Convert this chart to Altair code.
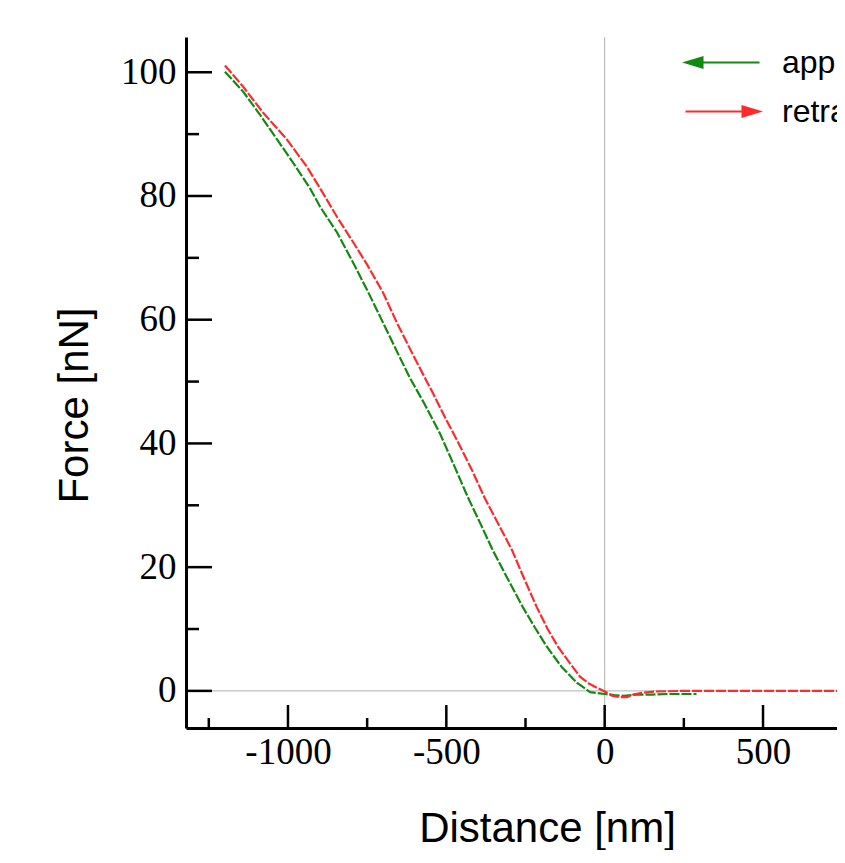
import altair as alt
import pandas as pd

# ---- data ----
approach_x = [-1199, -1142, -1088, -1034, -984, -931, -899, -845, -795, -750, -709, -662,
              -615, -568, -520, -476, -432, -392, -353, -305, -258, -220, -182, -135, -87,
              -46, 0, 30, 60, 100, 150, 200, 250, 290]
approach_y = [100.1, 96.9, 93.1, 89.1, 85.4, 81.3, 78.3, 74.1, 69.3, 64.8, 60.5, 55.5,
              50.6, 46.3, 41.6, 36.5, 31.3, 27.0, 22.7, 18.0, 13.5, 10.2, 7.1, 3.8, 1.3,
              -0.2, -0.5, -0.7, -0.8, -0.6, -0.6, -0.5, -0.5, -0.5]

retract_x = [-1199, -1142, -1079, -1003, -940, -890, -845, -795, -750, -700, -656, -600,
             -542, -505, -466, -420, -378, -335, -292, -253, -214, -180, -147, -110, -78,
             -50, -24, 0, 25, 50, 70, 90, 121, 160, 250, 400, 600, 800, 1000]
retract_y = [101.1, 97.7, 93.5, 89.1, 84.7, 80.5, 76.6, 72.6, 68.9, 64.4, 59.5, 53.8,
             48.1, 44.3, 40.5, 35.8, 31.1, 26.9, 22.7, 18.0, 13.5, 10.0, 7.1, 4.5, 2.3,
             1.2, 0.5, -0.1, -0.8, -1.0, -1.0, -0.6, -0.3, -0.1, 0.0, 0.0, 0.0, 0.0, 0.0]

series_names = ["approach", "retract"]
series_colors = ["#128a12", "#ff2a2a"]

y_major = [0, 20, 40, 60, 80, 100]
y_minor = [10, 30, 50, 70, 90]
x_major = [-1000, -500, 0, 500]
x_minor = [-1250, -750, -250, 250, 750]
x_domain = [-1322, 733.6]
y_domain = [-6, 105.7]

# arrows for the legend symbols
arrow_left = "M-2,0L2,0M-2,0L-1.08,-0.28L-1.08,0.28Z"
arrow_right = "M-2,0L2,0M2,0L1.08,-0.28L1.08,0.28Z"

# ---- tables ----
rows = []
for i, (xv, yv) in enumerate(zip(approach_x, approach_y)):
    rows.append({"x": xv, "y": yv, "series": "approach", "idx": i})
for i, (xv, yv) in enumerate(zip(retract_x, retract_y)):
    rows.append({"x": xv, "y": yv, "series": "retract", "idx": i})
df = pd.DataFrame(rows)

W, H = 651, 691

xs = alt.Scale(domain=x_domain, nice=False, zero=False)
ys = alt.Scale(domain=y_domain, nice=False, zero=False)
cscale = alt.Scale(domain=series_names, range=series_colors)

x_axis = alt.Axis(
    values=x_major, labelExpr="datum.value < 0 ? '-' + abs(datum.value) : '' + datum.value",
    ticks=False, tickSize=0, grid=False, domain=True, domainColor="black", domainWidth=3,
    labelFont="Liberation Serif", labelFontSize=37, labelColor="black", labelPadding=6,
    labelBaseline="top",
    title="Distance [nm]", titleFont="Liberation Sans", titleFontSize=42,
    titleFontWeight="normal", titleColor="black", titleX=361, titleY=113,
    titleAlign="center", titleBaseline="alphabetic",
)
y_axis = alt.Axis(
    values=y_major, ticks=False, tickSize=0, grid=False, domain=True, domainColor="black",
    domainWidth=3, labelFont="Liberation Serif", labelFontSize=37, labelColor="black",
    labelPadding=10, labelBaseline="middle",
    title="Force [nN]", titleFont="Liberation Sans", titleFontSize=42,
    titleFontWeight="normal", titleColor="black", titleX=-112, titleY=368,
    titleAngle=270, titleAlign="center", titleBaseline="middle",
)

leg = alt.Legend(
    orient="none", legendX=517, legendY=6, direction="vertical", title=None, padding=0,
    symbolSize=1369, symbolStrokeWidth=2, labelFont="Liberation Sans", labelFontSize=32,
    labelColor="black", labelOffset=40, rowPadding=13, labelLimit=600,
)
legend_layer = alt.Chart(df).transform_filter("false").mark_point(
    filled=True, opacity=1, size=1369, strokeWidth=2).encode(
    x=alt.X("x:Q", scale=xs),
    y=alt.Y("y:Q", scale=ys),
    color=alt.Color("series:N", scale=cscale, legend=leg),
    stroke=alt.Stroke("series:N", scale=cscale, legend=leg),
    shape=alt.Shape("series:N", scale=alt.Scale(domain=series_names, range=[arrow_left, arrow_right]),
                    legend=leg),
)

lines = alt.Chart(df).mark_line(strokeWidth=2.2, strokeDash=[10, 2], clip=True).encode(
    x=alt.X("x:Q", scale=xs, axis=x_axis),
    y=alt.Y("y:Q", scale=ys, axis=y_axis),
    color=alt.Color("series:N", scale=cscale, legend=None),
    order="idx:Q",
)

zero_v = alt.Chart(pd.DataFrame({"x": [0]})).mark_rule(color="#b0b0b0", strokeWidth=1).encode(
    x=alt.X("x:Q", scale=xs))
zero_h = alt.Chart(pd.DataFrame({"y": [0]})).mark_rule(color="#b0b0b0", strokeWidth=1).encode(
    y=alt.Y("y:Q", scale=ys))

ytick_major = alt.Chart(pd.DataFrame({"y": y_major})).mark_rule(color="black", strokeWidth=2.5).encode(
    y=alt.Y("y:Q", scale=ys), x=alt.value(0), x2=alt.value(26))
ytick_minor = alt.Chart(pd.DataFrame({"y": y_minor})).mark_rule(color="black", strokeWidth=2.5).encode(
    y=alt.Y("y:Q", scale=ys), x=alt.value(0), x2=alt.value(13))
xtick_major = alt.Chart(pd.DataFrame({"x": x_major})).mark_rule(color="black", strokeWidth=2.5).encode(
    x=alt.X("x:Q", scale=xs), y=alt.value(H), y2=alt.value(H - 23))
xtick_minor = alt.Chart(pd.DataFrame({"x": x_minor})).transform_filter(
    "datum.x <= %f" % x_domain[1]).mark_rule(color="black", strokeWidth=2.5).encode(
    x=alt.X("x:Q", scale=xs), y=alt.value(H), y2=alt.value(H - 10))

chart = alt.layer(
    legend_layer, zero_v, zero_h, lines, ytick_major, ytick_minor, xtick_major, xtick_minor
).properties(
    width=W, height=H,
    autosize="none",
    padding={"left": 178, "top": 29, "right": 0, "bottom": 122},
    background="white",
).configure_view(stroke=None)

chart.save("out.html", embed_options={"renderer": "svg", "actions": False})
